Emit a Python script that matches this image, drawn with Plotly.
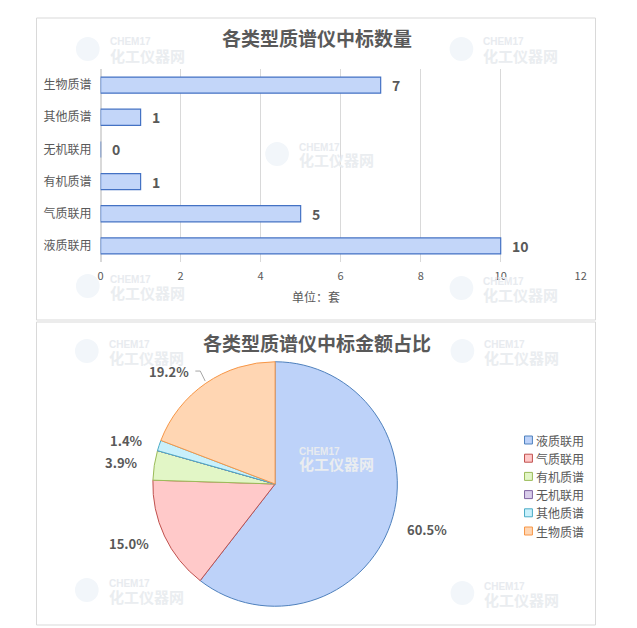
import math
import plotly.graph_objects as go

categories = ["液质联用", "气质联用", "有机质谱", "无机联用", "其他质谱", "生物质谱"]
bar_counts = [10, 5, 1, 0, 1, 7]
pie_shares = [60.5, 15.0, 3.9, 0.0, 1.4, 19.2]
x_ticks = [0, 2, 4, 6, 8, 10, 12]

bar_title = "各类型质谱仪中标数量"
pie_title = "各类型质谱仪中标金额占比"
unit_label = "单位：套"
wm_small = "CHEM17"
wm_big = "化工仪器网"

pie_fill = ["#bdd2f9", "#ffc9c9", "#e2f6c6", "#d9cdea", "#c9f0fb", "#ffd6b3"]
pie_line = ["#4f81bd", "#c0504d", "#9bbb59", "#8064a2", "#4bacc6", "#f79646"]

W, H = 637, 628
def px(x): return x / W
def py(y): return 1 - y / H

FONT = "Noto Sans CJK SC"
GRAY = "#595959"

# pie geometry (pixels)
PCX, PCY, PR = 276, 484, 124

fig = go.Figure()

fig.add_trace(go.Bar(
    y=categories, x=bar_counts, orientation="h",
    width=0.5,
    marker=dict(color="#c3d6f9", line=dict(color="#4472c4", width=1.2)),
    showlegend=False, xaxis="x", yaxis="y", hoverinfo="x+y",
))

fig.add_trace(go.Pie(
    labels=categories, values=pie_shares,
    sort=False, direction="clockwise", rotation=0,
    marker=dict(colors=pie_fill, line=dict(color=pie_line, width=1)),
    textinfo="none",
    domain=dict(x=[px(PCX - PR), px(PCX + PR)], y=[py(PCY + PR), py(PCY - PR)]),
    showlegend=False,
))

shapes = [
    dict(type="rect", xref="paper", yref="paper",
         x0=px(34), x1=px(601), y0=py(320), y1=py(18),
         line=dict(color="#d9d9d9", width=1), layer="below"),
    dict(type="rect", xref="paper", yref="paper",
         x0=px(34), x1=px(601), y0=py(625), y1=py(322),
         line=dict(color="#d9d9d9", width=1), layer="below"),
]

annotations = []

# faint watermarks (text-left x, small-line y)
wm_positions = [(106, 42), (485, 42), (298, 147), (106, 279), (485, 281),
                (105, 344), (486, 344), (298, 451), (105, 583), (486, 586)]
for (wx, wy) in wm_positions:
    shapes.append(dict(type="circle", xref="paper", yref="paper",
                       x0=px(wx - 32), x1=px(wx - 8), y0=py(wy + 19), y1=py(wy - 5),
                       fillcolor="#f2f6fa", line=dict(width=0), layer="below"))
    annotations.append(dict(text=wm_small, x=px(wx), y=py(wy), xref="paper", yref="paper",
                            xanchor="left", yanchor="middle", showarrow=False,
                            font=dict(family="Liberation Sans", size=10, color="#e8ebef", weight="bold")))
    annotations.append(dict(text=wm_big, x=px(wx), y=py(wy + 13), xref="paper", yref="paper",
                            xanchor="left", yanchor="middle", showarrow=False,
                            font=dict(family=FONT, size=15, color="#eaedf0", weight="bold")))

# titles
annotations += [
    dict(text=bar_title, x=px(318), y=py(38), xref="paper", yref="paper",
         xanchor="center", yanchor="middle", showarrow=False,
         font=dict(family=FONT, size=19, color=GRAY, weight="bold")),
    dict(text=pie_title, x=px(318), y=py(342), xref="paper", yref="paper",
         xanchor="center", yanchor="middle", showarrow=False,
         font=dict(family=FONT, size=19, color=GRAY, weight="bold")),
    dict(text=unit_label, x=px(317), y=py(297), xref="paper", yref="paper",
         xanchor="center", yanchor="middle", showarrow=False,
         font=dict(family=FONT, size=12, color=GRAY)),
]

# bar value labels
for cat, v in zip(categories, bar_counts):
    annotations.append(dict(text=str(v), x=v, y=cat, xref="x", yref="y",
                            xanchor="left", yanchor="middle", xshift=9, showarrow=False,
                            font=dict(family=FONT, size=14, color=GRAY, weight="bold")))

# pie percentage labels
total = sum(pie_shares)
cum = 0.0
RL = PR + 15
for i, v in enumerate(pie_shares):
    mid = (cum + v / 2) / total * 2 * math.pi
    cum += v
    if v <= 0:
        continue
    sx, sy = math.sin(mid), -math.cos(mid)
    lx, ly = PCX + RL * sx, PCY + RL * sy
    if i == len(pie_shares) - 1:
        # leader line for the last slice label
        ex, ey = PCX + (PR + 1) * sx, PCY + (PR + 1) * sy
        lx, ly = ex - 14, ey - 10
        shapes.append(dict(type="path", xref="paper", yref="paper",
                           path=f"M {px(lx+4)} {py(ly)} L {px(lx+9)} {py(ly)} L {px(ex)} {py(ey)}",
                           line=dict(color="#a6a6a6", width=1)))
    annotations.append(dict(text=f"{v:.1f}%", x=px(lx), y=py(ly), xref="paper", yref="paper",
                            xanchor="left" if sx > 0 else "right", yanchor="middle",
                            showarrow=False,
                            font=dict(family=FONT, size=13, color=GRAY, weight="bold")))

# legend (manual)
LX, LY0, LDY = 529, 440, 18.2
for i, cat in enumerate(categories):
    yy = LY0 + i * LDY
    shapes.append(dict(type="rect", xref="paper", yref="paper",
                       x0=px(LX), x1=px(LX + 8), y0=py(yy + 4), y1=py(yy - 4),
                       fillcolor=pie_fill[i], line=dict(color=pie_line[i], width=1)))
    annotations.append(dict(text=cat, x=px(LX + 10), y=py(yy), xref="paper", yref="paper",
                            xanchor="left", yanchor="middle", showarrow=False,
                            font=dict(family=FONT, size=12, color=GRAY)))

fig.update_layout(
    width=W, height=H,
    margin=dict(l=0, r=0, t=0, b=0),
    paper_bgcolor="white", plot_bgcolor="white",
    font=dict(family=FONT, color=GRAY),
    xaxis=dict(domain=[px(99), px(586)], range=[0, 12], tickvals=x_ticks,
               showgrid=True, gridcolor="#d9d9d9", gridwidth=1,
               zeroline=True, zerolinecolor="#d9d9d9",
               showline=False, ticks="",
               tickfont=dict(family=FONT, size=11, color=GRAY),
               ticklabelstandoff=6, fixedrange=True),
    yaxis=dict(domain=[py(262), py(69)], range=[-0.5, 5.5],
               type="category", categoryorder="array", categoryarray=categories,
               showgrid=False, showline=False, ticks="",
               tickfont=dict(family=FONT, size=12, color=GRAY),
               ticklabelstandoff=8, fixedrange=True),
    showlegend=False,
    hovermode=False,
    shapes=shapes,
    annotations=annotations,
)

fig.write_html("out.html",
               config={"displayModeBar": False, "staticPlot": True},
               post_script="document.documentElement.style.overflow='hidden';"
                           "document.body.style.margin='0';document.body.style.overflow='hidden';")
